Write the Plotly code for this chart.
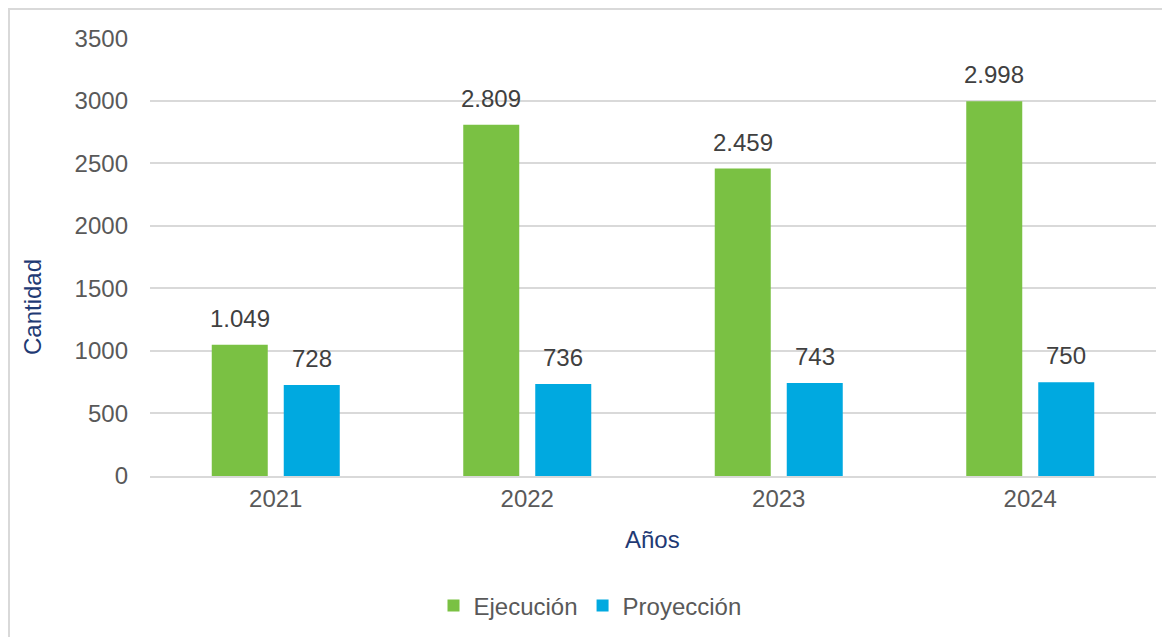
import plotly.graph_objects as go

years = ["2021", "2022", "2023", "2024"]
ejecucion = [1049, 2809, 2459, 2998]
proyeccion = [728, 736, 743, 750]
series_names = ["Ejecución", "Proyección"]
y_ticks = [0, 500, 1000, 1500, 2000, 2500, 3000, 3500]

GREEN = "#7AC143"
BLUE = "#00A9E0"
TEXT = "#595959"
LABEL = "#404040"
NAVY = "#1F3A74"
GRID = "#D9D9D9"
FONT = "Liberation Sans, Arial, sans-serif"
FS = 24

W, H = 1170, 637
OFF = 8  # page body offset
# plot area in reference pixels: x 150..1156, y 38..476
PX0, PX1, PY0, PY1 = 150, 1156, 38, 476
ML, MT = PX0 - OFF, PY0 - OFF
PW, PH = PX1 - PX0, PY1 - PY0
MR = W - ML - PW
MB = H - MT - PH


def px(x):
    return (x - PX0) / PW


def py(y):
    return (PY1 - y) / PH


fig = go.Figure()
fig.add_trace(go.Bar(x=years, y=ejecucion, name=series_names[0], marker=dict(color=GREEN, line=dict(width=0))))
fig.add_trace(go.Bar(x=years, y=proyeccion, name=series_names[1], marker=dict(color=BLUE, line=dict(width=0))))

cat_w = PW / len(years)
slot = 72
annotations = []
for vals, shift in ((ejecucion, -slot / 2), (proyeccion, slot / 2)):
    for i, v in enumerate(vals):
        annotations.append(dict(
            x=i, y=v, xref="x", yref="y", text=f"{v:,}".replace(",", "."),
            showarrow=False, xshift=shift, yshift=11, yanchor="bottom",
            font=dict(family=FONT, size=FS, color=LABEL)))

annotations.append(dict(x=px(32), y=py(307), xref="paper", yref="paper",
                        xanchor="center", yanchor="middle",
                        text="Cantidad", textangle=-90, showarrow=False,
                        font=dict(family=FONT, size=FS, color=NAVY)))
annotations.append(dict(x=px(652), y=py(539), xref="paper", yref="paper",
                        xanchor="center", yanchor="middle",
                        text="Años", showarrow=False,
                        font=dict(family=FONT, size=FS, color=NAVY)))

shapes = [dict(type="rect", xref="paper", yref="paper",
               x0=px(9), x1=px(1190), y0=py(660), y1=py(9),
               line=dict(color=GRID, width=2), layer="below")]

fig.update_layout(
    width=W, height=H,
    margin=dict(l=ML, r=MR, t=MT, b=MB),
    paper_bgcolor="white", plot_bgcolor="white",
    barmode="group", bargap=1 - 2 * slot / cat_w, bargroupgap=16 / slot,
    font=dict(family=FONT, size=FS, color=TEXT),
    showlegend=True,
    legend=dict(orientation="h", x=px(590), xanchor="center",
                y=py(606), yanchor="middle",
                font=dict(family=FONT, size=FS, color=TEXT), traceorder="normal"),
    annotations=annotations, shapes=shapes,
)
fig.update_yaxes(range=[0, 3503], autorange=False, tickvals=y_ticks, showgrid=True, gridcolor=GRID,
                 gridwidth=1.5, zeroline=False, showline=False, ticks="", ticklabelstandoff=21,
                 tickfont=dict(family=FONT, size=FS, color=TEXT))
fig.update_xaxes(type="category", range=[-0.5, len(years) - 0.5], autorange=False,
                 showline=True, linecolor=GRID, linewidth=1.5, ticks="",
                 tickfont=dict(family=FONT, size=FS, color=TEXT), ticklabelstandoff=0)

fig.write_html("out.html")
